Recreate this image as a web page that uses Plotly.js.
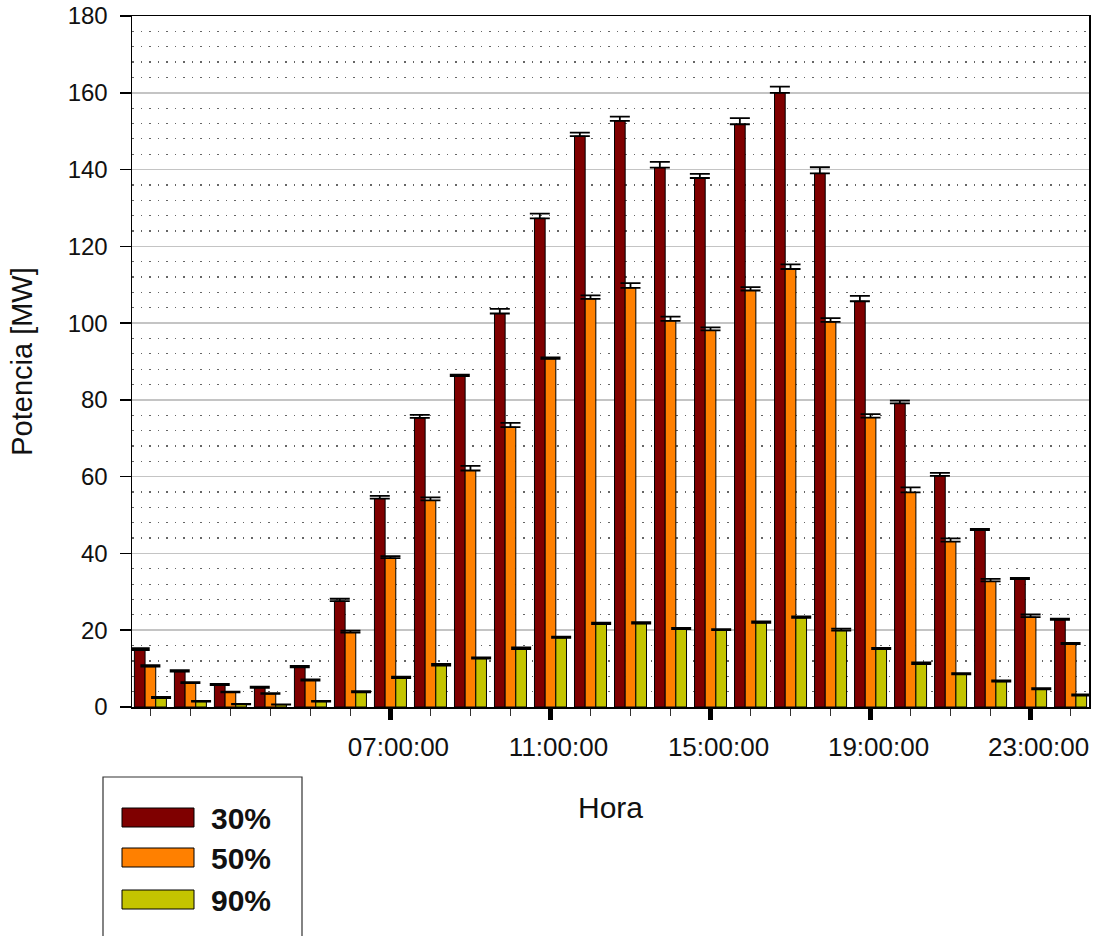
<!DOCTYPE html>
<html>
<head>
<meta charset="utf-8">
<script src="https://cdn.plot.ly/plotly-3.0.1.min.js"></script>
<style>
  html, body { margin: 0; padding: 0; background: #ffffff; }
  #chart { width: 1094px; height: 936px; }
</style>
</head>
<body>
<div id="chart"></div>
<script>
// ---- data ----
const hours = [1,2,3,4,5,6,7,8,9,10,11,12,13,14,15,16,17,18,19,20,21,22,23,24];
const tickHours = [7, 11, 15, 19, 23];
const tickLabels = ["07:00:00", "11:00:00", "15:00:00", "19:00:00", "23:00:00"];
const seriesNames = ["30%", "50%", "90%"];

const p30 = [14.8, 9.2, 5.7, 5.0, 10.3, 27.6, 54.3, 75.3, 86.2, 102.5, 127.3, 148.7, 152.7, 140.5, 137.8, 151.8, 160.0, 139.0, 105.7, 79.1, 60.2, 46.1, 33.3, 22.7];
const p50 = [10.5, 6.2, 3.8, 3.4, 6.9, 19.4, 38.8, 53.8, 61.6, 72.9, 90.7, 106.3, 109.2, 100.6, 98.1, 108.5, 114.1, 100.3, 75.4, 55.9, 43.1, 32.7, 23.4, 16.4];
const p90 = [2.3, 1.4, 0.7, 0.6, 1.4, 3.8, 7.5, 10.8, 12.6, 15.1, 18.0, 21.6, 21.7, 20.3, 20.0, 21.9, 23.2, 19.9, 15.1, 11.2, 8.5, 6.6, 4.6, 3.0];

const e30 = [0.5, 0.4, 0.3, 0.3, 0.4, 0.6, 0.7, 0.8, 0.4, 1.2, 1.2, 0.9, 1.1, 1.5, 1.1, 1.6, 1.6, 1.6, 1.4, 0.7, 0.8, 0.3, 0.3, 0.3];
const e50 = [0.4, 0.3, 0.2, 0.2, 0.3, 0.5, 0.5, 0.8, 1.2, 1.1, 0.4, 0.9, 1.2, 1.1, 0.8, 0.9, 1.2, 1.0, 0.9, 1.3, 0.8, 0.7, 0.7, 0.3];
const e90 = [0.3, 0.2, 0.1, 0.1, 0.2, 0.3, 0.4, 0.4, 0.3, 0.4, 0.3, 0.4, 0.4, 0.3, 0.3, 0.4, 0.4, 0.5, 0.3, 0.4, 0.3, 0.3, 0.3, 0.3];

const colors = ["#7f0000", "#ff8000", "#c4c400"];
const values = [p30, p50, p90];
const errors = [e30, e50, e90];

// ---- traces ----
const traces = values.map((v, i) => ({
  type: "bar",
  name: seriesNames[i],
  x: hours,
  y: v,
  marker: { color: colors[i], line: { color: "#000000", width: 1 } },
  error_y: { type: "data", array: errors[i], symmetric: false, arrayminus: errors[i].map(() => 0),
             color: "#000000", thickness: 1.8, width: 10 },
  showlegend: false
}));

// ---- plot-area geometry (px) ----
const L = 132, R = 1089, T = 16, B = 707, W = 1094, H = 936;
const fx = px => (px - L) / (R - L);
const fy = py => (B - py) / (B - T);

// ---- legend drawn as shapes + text ----
const shapes = [{
  type: "rect", xref: "paper", yref: "paper",
  x0: fx(103), x1: fx(302), y0: fy(945), y1: fy(777),
  line: { color: "#333333", width: 1.2 }, fillcolor: "rgba(255,255,255,0)"
}];
const annotations = [];
const rowsY = [808, 848, 890];
seriesNames.forEach((n, i) => {
  shapes.push({
    type: "rect", xref: "paper", yref: "paper",
    x0: fx(122), x1: fx(194), y0: fy(rowsY[i] + 19), y1: fy(rowsY[i]),
    fillcolor: colors[i], line: { color: "#000000", width: 1 }
  });
  annotations.push({
    xref: "paper", yref: "paper", x: fx(209), y: fy(rowsY[i] + 10),
    xanchor: "left", yanchor: "middle", showarrow: false, text: "<b>" + n + "</b>",
    font: { family: "Liberation Sans, Arial, sans-serif", size: 30, color: "#111111" }
  });
});

const layout = {
  width: W, height: H,
  margin: { l: L, r: W - R, t: T, b: H - B },
  paper_bgcolor: "#ffffff", plot_bgcolor: "#ffffff",
  font: { family: "Liberation Sans, Arial, sans-serif", color: "#111111", size: 24 },
  barmode: "group", bargap: 0.2, bargroupgap: 0,
  xaxis: {
    range: [0.54, 24.46],
    tickmode: "array", tickvals: tickHours, ticktext: tickLabels,
    ticks: "outside", ticklen: 11, tickwidth: 5, tickcolor: "#000000",
    ticklabelshift: 8, ticklabelstandoff: 5,
    minor: { tickmode: "array", tickvals: hours, ticks: "outside", ticklen: 7, tickwidth: 1, tickcolor: "#333333", showgrid: false },
    tickfont: { size: 26, color: "#111111" },
    showline: true, mirror: true, linecolor: "#000000", linewidth: 1.5,
    showgrid: false, zeroline: false,
    title: { text: "Hora", font: { size: 30, color: "#111111" }, standoff: 36 },
    fixedrange: true
  },
  yaxis: {
    range: [0, 180], dtick: 20, tick0: 0,
    ticks: "outside", ticklen: 11, tickwidth: 1.5, tickcolor: "#000000",
    ticklabelstandoff: 7,
    tickfont: { size: 24, color: "#111111" },
    showline: true, mirror: true, linecolor: "#000000", linewidth: 1.5,
    showgrid: true, gridcolor: "#c4c4c4", gridwidth: 1.5,
    minor: { dtick: 4, showgrid: true, gridcolor: "#666666", gridwidth: 1.2, griddash: "1.5px,7px", ticks: "" },
    zeroline: false,
    title: { text: "Potencia [MW]", font: { size: 29, color: "#111111" }, standoff: 26 },
    fixedrange: true
  },
  shapes: shapes,
  annotations: annotations,
  showlegend: false
};

Plotly.newPlot("chart", traces, layout, { displayModeBar: false, staticPlot: true });
</script>
</body>
</html>
